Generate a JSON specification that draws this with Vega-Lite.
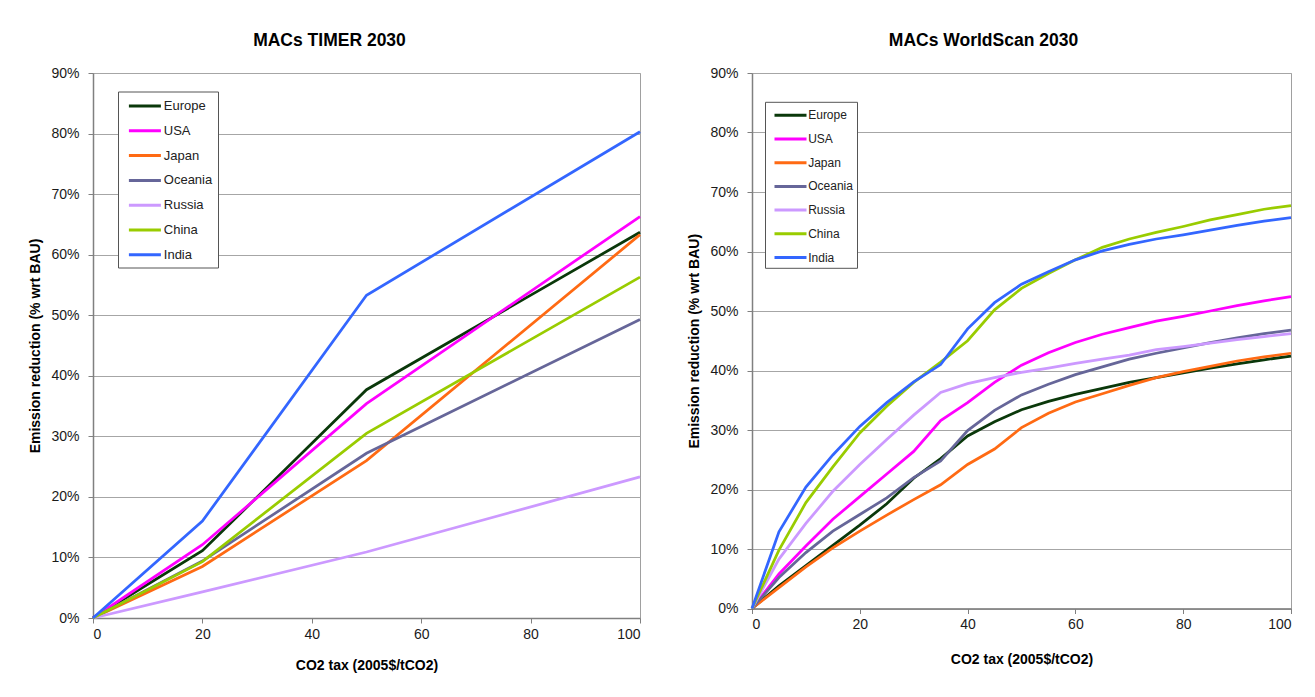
{
  "$schema": "https://vega.github.io/schema/vega-lite/v6.json",
  "background": "white",
  "padding": {"left": 28, "top": 31, "right": 5, "bottom": 5},
  "spacing": 41,
  "bounds": "full",
  "resolve": {"scale": {"color": "independent"}, "legend": {"color": "independent"}},
  "datasets": {
    "timer": [
      {"region": "Europe", "tax": 0, "reduction": 0},
      {"region": "Europe", "tax": 20, "reduction": 0.111},
      {"region": "Europe", "tax": 50, "reduction": 0.377},
      {"region": "Europe", "tax": 100, "reduction": 0.637},
      {"region": "USA", "tax": 0, "reduction": 0},
      {"region": "USA", "tax": 20, "reduction": 0.121},
      {"region": "USA", "tax": 50, "reduction": 0.354},
      {"region": "USA", "tax": 100, "reduction": 0.663},
      {"region": "Japan", "tax": 0, "reduction": 0},
      {"region": "Japan", "tax": 20, "reduction": 0.085},
      {"region": "Japan", "tax": 50, "reduction": 0.26},
      {"region": "Japan", "tax": 100, "reduction": 0.633},
      {"region": "Oceania", "tax": 0, "reduction": 0},
      {"region": "Oceania", "tax": 20, "reduction": 0.094},
      {"region": "Oceania", "tax": 50, "reduction": 0.272},
      {"region": "Oceania", "tax": 100, "reduction": 0.493},
      {"region": "Russia", "tax": 0, "reduction": 0},
      {"region": "Russia", "tax": 20, "reduction": 0.043},
      {"region": "Russia", "tax": 50, "reduction": 0.109},
      {"region": "Russia", "tax": 100, "reduction": 0.233},
      {"region": "China", "tax": 0, "reduction": 0},
      {"region": "China", "tax": 20, "reduction": 0.093},
      {"region": "China", "tax": 50, "reduction": 0.305},
      {"region": "China", "tax": 100, "reduction": 0.563},
      {"region": "India", "tax": 0, "reduction": 0},
      {"region": "India", "tax": 20, "reduction": 0.16},
      {"region": "India", "tax": 50, "reduction": 0.533},
      {"region": "India", "tax": 100, "reduction": 0.803}
    ],
    "worldscan": [
      {"region": "Europe", "tax": 0, "reduction": 0},
      {"region": "Europe", "tax": 5, "reduction": 0.038},
      {"region": "Europe", "tax": 10, "reduction": 0.072},
      {"region": "Europe", "tax": 15, "reduction": 0.106},
      {"region": "Europe", "tax": 20, "reduction": 0.14},
      {"region": "Europe", "tax": 25, "reduction": 0.176},
      {"region": "Europe", "tax": 30, "reduction": 0.219},
      {"region": "Europe", "tax": 35, "reduction": 0.252},
      {"region": "Europe", "tax": 40, "reduction": 0.29},
      {"region": "Europe", "tax": 45, "reduction": 0.314},
      {"region": "Europe", "tax": 50, "reduction": 0.334},
      {"region": "Europe", "tax": 55, "reduction": 0.348},
      {"region": "Europe", "tax": 60, "reduction": 0.36},
      {"region": "Europe", "tax": 65, "reduction": 0.37},
      {"region": "Europe", "tax": 70, "reduction": 0.38},
      {"region": "Europe", "tax": 75, "reduction": 0.388},
      {"region": "Europe", "tax": 80, "reduction": 0.396},
      {"region": "Europe", "tax": 85, "reduction": 0.404},
      {"region": "Europe", "tax": 90, "reduction": 0.411},
      {"region": "Europe", "tax": 95, "reduction": 0.418},
      {"region": "Europe", "tax": 100, "reduction": 0.424},
      {"region": "USA", "tax": 0, "reduction": 0},
      {"region": "USA", "tax": 5, "reduction": 0.058},
      {"region": "USA", "tax": 10, "reduction": 0.105},
      {"region": "USA", "tax": 15, "reduction": 0.15},
      {"region": "USA", "tax": 20, "reduction": 0.188},
      {"region": "USA", "tax": 25, "reduction": 0.226},
      {"region": "USA", "tax": 30, "reduction": 0.264},
      {"region": "USA", "tax": 35, "reduction": 0.316},
      {"region": "USA", "tax": 40, "reduction": 0.346},
      {"region": "USA", "tax": 45, "reduction": 0.38},
      {"region": "USA", "tax": 50, "reduction": 0.409},
      {"region": "USA", "tax": 55, "reduction": 0.43},
      {"region": "USA", "tax": 60, "reduction": 0.447},
      {"region": "USA", "tax": 65, "reduction": 0.461},
      {"region": "USA", "tax": 70, "reduction": 0.472},
      {"region": "USA", "tax": 75, "reduction": 0.483},
      {"region": "USA", "tax": 80, "reduction": 0.491},
      {"region": "USA", "tax": 85, "reduction": 0.5},
      {"region": "USA", "tax": 90, "reduction": 0.509},
      {"region": "USA", "tax": 95, "reduction": 0.517},
      {"region": "USA", "tax": 100, "reduction": 0.524},
      {"region": "Japan", "tax": 0, "reduction": 0},
      {"region": "Japan", "tax": 5, "reduction": 0.035},
      {"region": "Japan", "tax": 10, "reduction": 0.07},
      {"region": "Japan", "tax": 15, "reduction": 0.102},
      {"region": "Japan", "tax": 20, "reduction": 0.13},
      {"region": "Japan", "tax": 25, "reduction": 0.157},
      {"region": "Japan", "tax": 30, "reduction": 0.183},
      {"region": "Japan", "tax": 35, "reduction": 0.208},
      {"region": "Japan", "tax": 40, "reduction": 0.242},
      {"region": "Japan", "tax": 45, "reduction": 0.268},
      {"region": "Japan", "tax": 50, "reduction": 0.304},
      {"region": "Japan", "tax": 55, "reduction": 0.328},
      {"region": "Japan", "tax": 60, "reduction": 0.347},
      {"region": "Japan", "tax": 65, "reduction": 0.361},
      {"region": "Japan", "tax": 70, "reduction": 0.375},
      {"region": "Japan", "tax": 75, "reduction": 0.388},
      {"region": "Japan", "tax": 80, "reduction": 0.398},
      {"region": "Japan", "tax": 85, "reduction": 0.407},
      {"region": "Japan", "tax": 90, "reduction": 0.416},
      {"region": "Japan", "tax": 95, "reduction": 0.423},
      {"region": "Japan", "tax": 100, "reduction": 0.429},
      {"region": "Oceania", "tax": 0, "reduction": 0},
      {"region": "Oceania", "tax": 5, "reduction": 0.052},
      {"region": "Oceania", "tax": 10, "reduction": 0.094},
      {"region": "Oceania", "tax": 15, "reduction": 0.13},
      {"region": "Oceania", "tax": 20, "reduction": 0.158},
      {"region": "Oceania", "tax": 25, "reduction": 0.186},
      {"region": "Oceania", "tax": 30, "reduction": 0.22},
      {"region": "Oceania", "tax": 35, "reduction": 0.248},
      {"region": "Oceania", "tax": 40, "reduction": 0.299},
      {"region": "Oceania", "tax": 45, "reduction": 0.333},
      {"region": "Oceania", "tax": 50, "reduction": 0.359},
      {"region": "Oceania", "tax": 55, "reduction": 0.377},
      {"region": "Oceania", "tax": 60, "reduction": 0.393},
      {"region": "Oceania", "tax": 65, "reduction": 0.406},
      {"region": "Oceania", "tax": 70, "reduction": 0.419},
      {"region": "Oceania", "tax": 75, "reduction": 0.429},
      {"region": "Oceania", "tax": 80, "reduction": 0.438},
      {"region": "Oceania", "tax": 85, "reduction": 0.447},
      {"region": "Oceania", "tax": 90, "reduction": 0.455},
      {"region": "Oceania", "tax": 95, "reduction": 0.462},
      {"region": "Oceania", "tax": 100, "reduction": 0.468},
      {"region": "Russia", "tax": 0, "reduction": 0},
      {"region": "Russia", "tax": 5, "reduction": 0.083},
      {"region": "Russia", "tax": 10, "reduction": 0.143},
      {"region": "Russia", "tax": 15, "reduction": 0.197},
      {"region": "Russia", "tax": 20, "reduction": 0.242},
      {"region": "Russia", "tax": 25, "reduction": 0.284},
      {"region": "Russia", "tax": 30, "reduction": 0.325},
      {"region": "Russia", "tax": 35, "reduction": 0.363},
      {"region": "Russia", "tax": 40, "reduction": 0.378},
      {"region": "Russia", "tax": 45, "reduction": 0.388},
      {"region": "Russia", "tax": 50, "reduction": 0.397},
      {"region": "Russia", "tax": 55, "reduction": 0.404},
      {"region": "Russia", "tax": 60, "reduction": 0.412},
      {"region": "Russia", "tax": 65, "reduction": 0.419},
      {"region": "Russia", "tax": 70, "reduction": 0.426},
      {"region": "Russia", "tax": 75, "reduction": 0.435},
      {"region": "Russia", "tax": 80, "reduction": 0.44},
      {"region": "Russia", "tax": 85, "reduction": 0.446},
      {"region": "Russia", "tax": 90, "reduction": 0.452},
      {"region": "Russia", "tax": 95, "reduction": 0.457},
      {"region": "Russia", "tax": 100, "reduction": 0.462},
      {"region": "China", "tax": 0, "reduction": 0},
      {"region": "China", "tax": 5, "reduction": 0.098},
      {"region": "China", "tax": 10, "reduction": 0.178},
      {"region": "China", "tax": 15, "reduction": 0.238},
      {"region": "China", "tax": 20, "reduction": 0.295},
      {"region": "China", "tax": 25, "reduction": 0.34},
      {"region": "China", "tax": 30, "reduction": 0.38},
      {"region": "China", "tax": 35, "reduction": 0.414},
      {"region": "China", "tax": 40, "reduction": 0.45},
      {"region": "China", "tax": 45, "reduction": 0.502},
      {"region": "China", "tax": 50, "reduction": 0.538},
      {"region": "China", "tax": 55, "reduction": 0.563},
      {"region": "China", "tax": 60, "reduction": 0.586},
      {"region": "China", "tax": 65, "reduction": 0.607},
      {"region": "China", "tax": 70, "reduction": 0.621},
      {"region": "China", "tax": 75, "reduction": 0.632},
      {"region": "China", "tax": 80, "reduction": 0.642},
      {"region": "China", "tax": 85, "reduction": 0.653},
      {"region": "China", "tax": 90, "reduction": 0.662},
      {"region": "China", "tax": 95, "reduction": 0.671},
      {"region": "China", "tax": 100, "reduction": 0.677},
      {"region": "India", "tax": 0, "reduction": 0},
      {"region": "India", "tax": 5, "reduction": 0.129},
      {"region": "India", "tax": 10, "reduction": 0.204},
      {"region": "India", "tax": 15, "reduction": 0.258},
      {"region": "India", "tax": 20, "reduction": 0.306},
      {"region": "India", "tax": 25, "reduction": 0.346},
      {"region": "India", "tax": 30, "reduction": 0.381},
      {"region": "India", "tax": 35, "reduction": 0.41},
      {"region": "India", "tax": 40, "reduction": 0.47},
      {"region": "India", "tax": 45, "reduction": 0.514},
      {"region": "India", "tax": 50, "reduction": 0.545},
      {"region": "India", "tax": 55, "reduction": 0.566},
      {"region": "India", "tax": 60, "reduction": 0.586},
      {"region": "India", "tax": 65, "reduction": 0.601},
      {"region": "India", "tax": 70, "reduction": 0.612},
      {"region": "India", "tax": 75, "reduction": 0.621},
      {"region": "India", "tax": 80, "reduction": 0.628},
      {"region": "India", "tax": 85, "reduction": 0.636},
      {"region": "India", "tax": 90, "reduction": 0.644},
      {"region": "India", "tax": 95, "reduction": 0.651},
      {"region": "India", "tax": 100, "reduction": 0.657}
    ]
  },
  "hconcat": [
    {
      "width": 547,
      "height": 545,
      "title": {"text": "MACs TIMER 2030", "offset": 16.5, "dx": -37},
      "data": {"name": "timer"},
      "mark": {"type": "line", "strokeWidth": 2.75},
      "encoding": {
        "x": {
          "field": "tax", "type": "quantitative",
          "scale": {"domain": [0, 100], "nice": false},
          "axis": {"values": [0, 20, 40, 60, 80, 100], "title": "CO2 tax (2005$/tCO2)", "grid": false, "titlePadding": 17}
        },
        "y": {
          "field": "reduction", "type": "quantitative",
          "scale": {"domain": [0, 0.9], "nice": false},
          "axis": {"format": ".0%", "values": [0, 0.1, 0.2, 0.3, 0.4, 0.5, 0.6, 0.7, 0.8, 0.9], "title": "Emission reduction (% wrt BAU)", "titlePadding": 8}
        },
        "color": {
          "field": "region", "type": "nominal",
          "scale": {
            "domain": ["Europe", "USA", "Japan", "Oceania", "Russia", "China", "India"],
            "range": ["#0a380a", "#ff00ff", "#ff6a13", "#666699", "#cc99ff", "#99cc00", "#3366ff"]
          },
          "legend": {
            "orient": "none", "legendX": 25, "legendY": 18.5, "title": null,
            "padding": 5, "rowPadding": 7.8, "symbolSize": 256, "symbolType": "M-2,0L2,0",
            "symbolOffset": 12.4, "labelOffset": 9.4, "labelFontSize": 13,
            "strokeColor": "#555555", "fillColor": "white", "symbolStrokeWidth": 3
          }
        }
      }
    },
    {
      "width": 539,
      "height": 535.5,
      "title": {"text": "MACs WorldScan 2030", "offset": 16.5, "dx": -38},
      "data": {"name": "worldscan"},
      "mark": {"type": "line", "strokeWidth": 2.75},
      "encoding": {
        "x": {
          "field": "tax", "type": "quantitative",
          "scale": {"domain": [0, 100], "nice": false},
          "axis": {"values": [0, 20, 40, 60, 80, 100], "title": "CO2 tax (2005$/tCO2)", "grid": false, "titlePadding": 21}
        },
        "y": {
          "field": "reduction", "type": "quantitative",
          "scale": {"domain": [0, 0.9], "nice": false},
          "axis": {"format": ".0%", "values": [0, 0.1, 0.2, 0.3, 0.4, 0.5, 0.6, 0.7, 0.8, 0.9], "title": "Emission reduction (% wrt BAU)", "titlePadding": 8}
        },
        "color": {
          "field": "region", "type": "nominal",
          "scale": {
            "domain": ["Europe", "USA", "Japan", "Oceania", "Russia", "China", "India"],
            "range": ["#0a380a", "#ff00ff", "#ff6a13", "#666699", "#cc99ff", "#99cc00", "#3366ff"]
          },
          "legend": {
            "orient": "none", "legendX": 13, "legendY": 28.8, "title": null,
            "padding": 4, "rowPadding": 7.7, "symbolSize": 256, "symbolType": "M-2,0L2,0",
            "symbolOffset": 12, "labelOffset": 8.2, "labelFontSize": 12,
            "strokeColor": "#555555", "fillColor": "white", "symbolStrokeWidth": 3
          }
        }
      }
    }
  ],
  "config": {
    "font": "Liberation Sans",
    "view": {"stroke": "#a0a0a0", "strokeWidth": 1},
    "title": {"fontSize": 17.5, "fontWeight": "bold", "color": "#000000", "anchor": "middle", "font": "Liberation Sans"},
    "axis": {
      "labelFont": "Liberation Sans", "labelFontSize": 14, "labelColor": "#1a1a1a",
      "titleFont": "Liberation Sans", "titleFontSize": 14, "titleFontWeight": "bold", "titleColor": "#000000",
      "domainColor": "#808080", "domainWidth": 1.5, "tickColor": "#808080", "tickSize": 5,
      "gridColor": "#a6a6a6", "gridWidth": 1
    },
    "axisY": {"labelPadding": 9, "grid": true},
    "axisX": {"labelPadding": 4},
    "legend": {"labelFont": "Liberation Sans", "labelColor": "#222222"}
  }
}
